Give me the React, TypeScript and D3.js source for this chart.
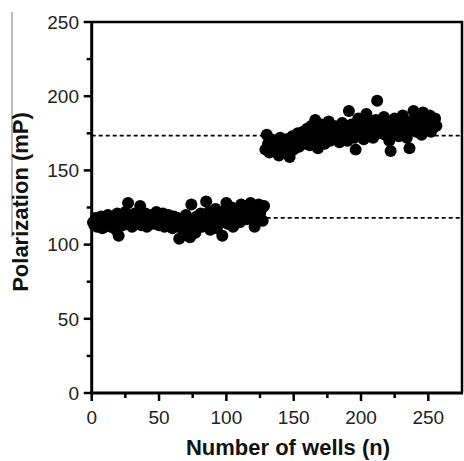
import React from 'react';
import * as d3 from 'd3';

// polarization readings, wells 1-128 (free tracer) and 129-256 (bound)
const lowValues = [
  115, 113, 118, 112, 116, 114, 119, 111, 117, 115, 113, 120, 116, 112, 118, 114,
  117, 110, 121, 106, 115, 119, 113, 117, 122, 116, 128, 114, 119, 112, 118, 121,
  115, 117, 120, 126, 113, 118, 116, 121, 112, 119, 117, 115, 120, 114, 118, 122,
  116, 113, 119, 117, 121, 112, 118, 115, 120, 114, 117, 111, 119, 116, 113, 118,
  104, 112, 117, 109, 115, 120, 110, 114, 105, 127, 111, 116, 108, 119, 113, 117,
  121, 112, 118, 115, 129, 116, 122, 110, 119, 113, 117, 124, 111, 118, 115, 120,
  106, 118, 123, 128, 114, 120, 117, 125, 112, 121, 116, 119, 123, 115, 127, 118,
  121, 124, 117, 126, 120, 128, 122, 119, 112, 125, 118, 127, 121, 124, 116, 126,
];
const highValues = [
  164, 174, 168, 162, 171, 166, 163, 170, 165, 168, 160, 172, 166, 169, 163, 167,
  171, 165, 159, 168, 173, 164, 170, 167, 175, 166, 172, 169, 176, 171, 168, 178,
  173, 167, 180, 170, 176, 184, 172, 165, 178, 170, 181, 174, 168, 179, 176, 183,
  170, 177, 173, 180, 175, 171, 178, 169, 176, 182, 172, 178, 174, 170, 190, 177,
  181, 175, 172, 164, 179, 185, 173, 177, 183, 171, 178, 188, 176, 182, 174, 180,
  172, 179, 184, 197, 177, 183, 175, 180, 186, 174, 181, 178, 170, 163, 182, 177,
  185, 176, 180, 173, 184, 179, 187, 175, 181, 172, 178, 165, 183, 177, 190, 180,
  176, 184, 179, 186, 174, 189, 181, 177, 183, 178, 187, 176, 182, 179, 185, 180,
];
const meanLines = [118, 173.5];
const xTicks = [0, 50, 100, 150, 200, 250];
const yTicks = [0, 50, 100, 150, 200, 250];

const points = [
  ...lowValues.map((v, i) => ({ n: i + 1, v })),
  ...highValues.map((v, i) => ({ n: lowValues.length + i + 1, v })),
];

export default function App() {
  const left = 91.7, top = 22, right = 462, bottom = 393;
  const x = d3.scaleLinear().domain([0, 275]).range([left, right]);
  const y = d3.scaleLinear().domain([0, 250]).range([bottom, top]);
  const font = 'Liberation Sans, Arial, sans-serif';
  const xMinor = d3.range(0, 251, 25);
  const yMinor = d3.range(0, 251, 25);
  return (
    <svg width={464} height={461} style={{ position: 'absolute', left: 0, top: 0, background: '#fff' }}>
      <line x1={12} x2={12} y1={12} y2={237} stroke="#777" strokeWidth={1} />
      {meanLines.map(m => (
        <line key={m} x1={left} x2={right} y1={y(m)} y2={y(m)} stroke="#000" strokeWidth={1.8} strokeDasharray="4,3" />
      ))}
      {points.map(p => (
        <circle key={p.n} cx={x(p.n)} cy={y(p.v)} r={6} fill="#000" />
      ))}
      {/* frame */}
      <path d={`M${left},${top}H${right}V${bottom}`} fill="none" stroke="#000" strokeWidth={2.5} />
      {/* y axis */}
      <line x1={left} x2={left} y1={top - 1} y2={bottom + 1} stroke="#000" strokeWidth={3} />
      {yMinor.map(t => (
        <line key={t} x1={left - (t % 50 === 0 ? 8 : 5)} x2={left} y1={y(t)} y2={y(t)} stroke="#000" strokeWidth={2.5} />
      ))}
      {yTicks.map(t => (
        <text key={t} x={79} y={y(t)} dy="0.36em" textAnchor="end" fontFamily={font} fontSize={19} fill="#222">{t}</text>
      ))}
      {/* x axis */}
      <line x1={left - 1} x2={right + 1} y1={bottom} y2={bottom} stroke="#000" strokeWidth={3} />
      {xMinor.map(t => (
        <line key={t} x1={x(t)} x2={x(t)} y1={bottom} y2={bottom + (t % 50 === 0 ? 8 : 5)} stroke="#000" strokeWidth={2.5} />
      ))}
      {xTicks.map(t => (
        <text key={t} x={x(t)} y={424} textAnchor="middle" fontFamily={font} fontSize={19} fill="#222">{t}</text>
      ))}
      <text x={288} y={455} textAnchor="middle" fontFamily={font} fontSize={22} fontWeight="bold" fill="#111">Number of wells (n)</text>
      <text transform="translate(28,202) rotate(-90)" textAnchor="middle" fontFamily={font} fontSize={22} fontWeight="bold" fill="#111">Polarization (mP)</text>
    </svg>
  );
}
